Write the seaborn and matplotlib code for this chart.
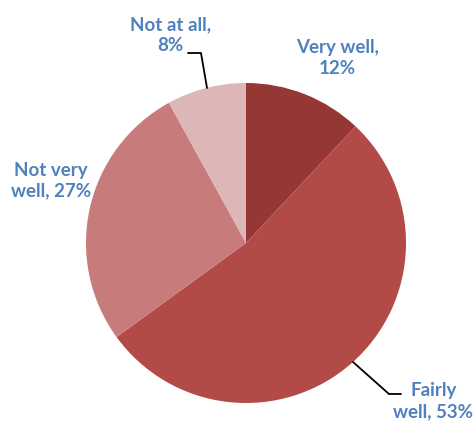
import matplotlib
matplotlib.use("Agg")
import matplotlib.pyplot as plt
import seaborn as sns

sns.set_theme(style="white")
plt.rcParams['font.family'] = ['Lato', 'DejaVu Sans']

categories = ["Very well", "Fairly well", "Not very well", "Not at all"]
values = [12, 53, 27, 8]
colors = ["#953735", "#B24A47", "#C77C7B", "#DDB7B7"]
label_texts = ["Very well,\n12%", "Fairly\nwell, 53%", "Not very\nwell, 27%", "Not at all,\n8%"]
label_pos = [(0.57, 1.155), (1.17, -0.99), (-1.22, 0.39), (-0.47, 1.30)]

W, H = 473, 423
fig = plt.figure(figsize=(W / 100, H / 100), dpi=100)
cx, cy, r = 246, 243, 160
ax = fig.add_axes([(cx - r) / W, (H - cy - r) / H, 2 * r / W, 2 * r / H])

wedges, _ = ax.pie(values, colors=colors, startangle=90, counterclock=False,
                   radius=1, wedgeprops=dict(linewidth=0))
ax.set_xlim(-1, 1)
ax.set_ylim(-1, 1)
ax.set_aspect("equal")
ax.axis("off")

for (x, y), t in zip(label_pos, label_texts):
    ax.text(x, y, t, ha="center", va="center", fontsize=13.5, fontweight="bold",
            color="#4F81BD", linespacing=1.3, clip_on=False)

# leader lines
def px(p):
    return ((p[0] - cx) / r, (cy - p[1]) / r)

for pts in [[(188, 53), (201, 53), (207, 88)],
            [(353, 362), (389, 394), (401, 394)]]:
    xs, ys = zip(*[px(p) for p in pts])
    ax.plot(xs, ys, color="black", lw=1.3, clip_on=False)

fig.savefig("out.png", dpi=100, facecolor="white")
